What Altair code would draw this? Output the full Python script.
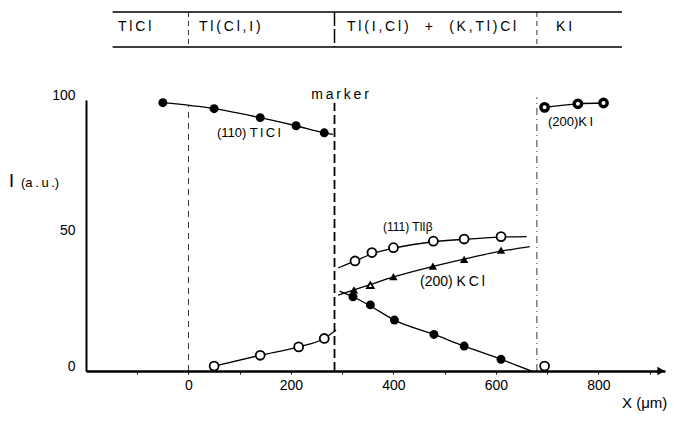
import altair as alt
import pandas as pd

FONT = "Liberation Sans"
TS = "\u2009"  # thin space used for the letter-spaced typesetting of the original

# (110) TlCl - filled circles, decreasing from 100
tlcl_x = [-50, 50, 140, 210, 265]
tlcl_y = [99.0, 96.8, 93.5, 90.5, 87.9]
tlcl_curve_x = [-50, 50, 140, 210, 265, 282]
tlcl_curve_y = [99.0, 96.8, 93.5, 90.5, 87.9, 87.3]

# open circles, rising from 0 up to the marker
open_left_x = [50, 140, 215, 265]
open_left_y = [1.8, 5.8, 8.9, 12.0]
open_left_curve_x = [50, 140, 215, 265, 288]
open_left_curve_y = [1.8, 5.8, 8.9, 12.0, 15.1]

# (111) TlI beta - open circles
tli_x = [325, 358, 400, 478, 538, 610]
tli_y = [40.6, 43.7, 45.5, 47.9, 48.7, 49.6]
tli_curve_x = [292, 325, 358, 400, 478, 538, 610, 660]
tli_curve_y = [38.0, 40.6, 43.2, 45.3, 47.7, 48.6, 49.4, 49.6]

# (200) KCl - triangles (second one open)
kcl_x = [323, 355, 400, 477, 538, 610]
kcl_y = [29.9, 31.7, 34.8, 38.7, 41.2, 44.6]
kcl_open = [False, True, False, False, False, False]
kcl_curve_x = [292, 323, 355, 400, 477, 538, 610, 666]
kcl_curve_y = [28.0, 29.9, 31.9, 34.7, 38.6, 41.3, 44.2, 45.9]

# filled circles decreasing to 0
dec_x = [321, 355, 402, 479, 538, 610]
dec_y = [27.4, 24.4, 18.8, 13.5, 9.2, 4.3]
dec_curve_x = [295, 321, 355, 402, 479, 538, 610, 669]
dec_curve_y = [29.5, 27.4, 24.0, 18.8, 13.5, 9.2, 4.3, 0.0]

# (200) KI - half filled circles
ki_x = [695, 760, 810]
ki_y = [97.3, 98.6, 98.9]

# open circle near 0 after the KI boundary
open_right_x = [695]
open_right_y = [1.8]

# boundaries
boundary_x = [0, 285, 680]
x_ticks = [-100, 0, 100, 200, 300, 400, 500, 600, 700, 800, 900]
y_ticks = [0, 50, 100]

header_labels = ["TlCl", "Tl(Cl,I)", "Tl(I,Cl)  +  (K,Tl)Cl", "KI"]

W, H = 579, 271
xs = alt.Scale(domain=[-200, 930], nice=False, zero=False)
ys = alt.Scale(domain=[0, 100], nice=False, zero=False)

AX = alt.Axis(
    title="", values=x_ticks, grid=False, domainColor="black", domainWidth=2.5,
    tickColor="black", tickSize=3, tickWidth=1, labelFont=FONT, labelFontSize=14,
    labelColor="black", labelPadding=4,
    labelExpr="datum.value % 200 == 0 && datum.value >= 0 && datum.value <= 800 ? datum.label : ''")
AY = alt.Axis(
    title="", values=y_ticks, grid=False, domainColor="black", domainWidth=2,
    tickSize=0, labelFont=FONT, labelFontSize=14, labelColor="black",
    labelPadding=11, labelOffset=-5)


def sp(s):
    return TS.join(s)


def df(x, y, **extra):
    d = {"x": x, "y": y}
    d.update(extra)
    return pd.DataFrame(d)


def X():
    return alt.X("x:Q", scale=xs, axis=AX)


def Y():
    return alt.Y("y:Q", scale=ys, axis=AY)


arrow = alt.Chart(df([0], [0])).mark_point(
    shape="triangle-right", filled=True, color="black", size=70, opacity=1
).encode(x=alt.value(W - 4), y=alt.value(H))


def curve(xv, yv, width=1.3):
    return alt.Chart(df(xv, yv)).mark_line(
        color="black", strokeWidth=width, interpolate="monotone"
    ).encode(x=X(), y=Y())


def pts(xv, yv, filled=True, shape="circle", size=80, sw=1.8):
    return alt.Chart(df(xv, yv)).mark_point(
        shape=shape, filled=filled, size=size, color="black", opacity=1,
        strokeWidth=sw, fill="black" if filled else "white"
    ).encode(x=X(), y=Y())


# boundaries in plot
rule_df0 = pd.DataFrame({"x": [boundary_x[0]], "y": [0], "y2": [98]})
rule_df1 = pd.DataFrame({"x": [boundary_x[1]], "y": [0], "y2": [99]})
rule_df2 = pd.DataFrame({"x": [boundary_x[2]], "y": [0], "y2": [101]})
b0 = alt.Chart(rule_df0).mark_rule(color="black", strokeWidth=0.8, strokeDash=[6, 5]).encode(
    x=X(), y=Y(), y2="y2:Q")
b1 = alt.Chart(rule_df1).mark_rule(color="black", strokeWidth=1.8, strokeDash=[9, 4]).encode(
    x=X(), y=Y(), y2="y2:Q")
b2 = alt.Chart(rule_df2).mark_rule(color="black", strokeWidth=0.8, strokeDash=[7, 4, 1, 4]).encode(
    x=X(), y=Y(), y2="y2:Q")

# header table
hdr_top, hdr_bot = -88, -53
hdr_lines = alt.Chart(pd.DataFrame({"x": [-148], "x2": [846]})).mark_rule(
    color="black", strokeWidth=1.4).encode(
    x=X(), x2="x2:Q", y=alt.value(hdr_top))
hdr_lines2 = alt.Chart(pd.DataFrame({"x": [-148], "x2": [846]})).mark_rule(
    color="black", strokeWidth=1.4).encode(
    x=X(), x2="x2:Q", y=alt.value(hdr_bot))
hdr_sep_thin = alt.Chart(pd.DataFrame({"x": [boundary_x[0], boundary_x[2]]})).mark_rule(
    color="black", strokeWidth=0.8, strokeDash=[5, 4]).encode(
    x=X(), y=alt.value(hdr_top), y2=alt.value(hdr_bot))
hdr_sep_thick = alt.Chart(pd.DataFrame({"x": [boundary_x[1]]})).mark_rule(
    color="black", strokeWidth=1.5, strokeDash=[14, 3]).encode(
    x=X(), y=alt.value(hdr_top), y2=alt.value(hdr_bot))


def txt(s, x, y, size=13, align="left"):
    return alt.Chart(pd.DataFrame({"a": [0]})).mark_text(
        text=s, align=align, baseline="middle", fontSize=size, font=FONT, color="black"
    ).encode(x=alt.value(x), y=alt.value(y))


texts = [
    txt(sp(header_labels[0]), 32, -73, 14),
    txt(sp(header_labels[1]), 113, -73, 14),
    txt(sp(header_labels[2]), 261, -73, 14),
    txt(sp(header_labels[3]), 470, -73, 14),
    txt(sp("marker"), 254, -5, 14, "center"),
    txt("(110) " + sp("TlCl"), 131, 33, 13),
    txt("(111) TlI\u03b2", 297, 127, 12),
    txt("(200)  " + sp("KCl"), 334, 182, 14),
    txt("(200)" + sp("KI"), 462, 22, 13),
    txt("I", -77, 82, 18),
    txt("(" + sp("a.u.") + ")", -65, 83, 13),
    txt("X  (\u03bcm)", 536, 303, 15),
]

layers = [
    b0, b1, b2,
    curve(tlcl_curve_x, tlcl_curve_y),
    curve(open_left_curve_x, open_left_curve_y),
    curve(tli_curve_x, tli_curve_y),
    curve(kcl_curve_x, kcl_curve_y),
    curve(dec_curve_x, dec_curve_y),
    curve(ki_x, ki_y),
    pts(tlcl_x, tlcl_y, True),
    pts(open_left_x, open_left_y, False),
    pts(tli_x, tli_y, False),
    pts([x for x, o in zip(kcl_x, kcl_open) if not o], [y for y, o in zip(kcl_y, kcl_open) if not o],
        True, "triangle-up", 70),
    pts([x for x, o in zip(kcl_x, kcl_open) if o], [y for y, o in zip(kcl_y, kcl_open) if o],
        False, "triangle-up", 45),
    pts(dec_x, dec_y, True),
    pts(ki_x, ki_y, False, "circle", 55, 3.4),
    pts(open_right_x, open_right_y, False),
    arrow,
    hdr_lines, hdr_lines2, hdr_sep_thin, hdr_sep_thick,
] + texts

chart = alt.layer(*layers).properties(
    width=W, height=H,
    padding={"left": 78, "top": 92, "right": 8, "bottom": 44},
    autosize=alt.AutoSizeParams(type="none"),
    background="white",
).configure_view(stroke=None)

chart.save("out.html", embed_options={"renderer": "svg", "actions": False})
